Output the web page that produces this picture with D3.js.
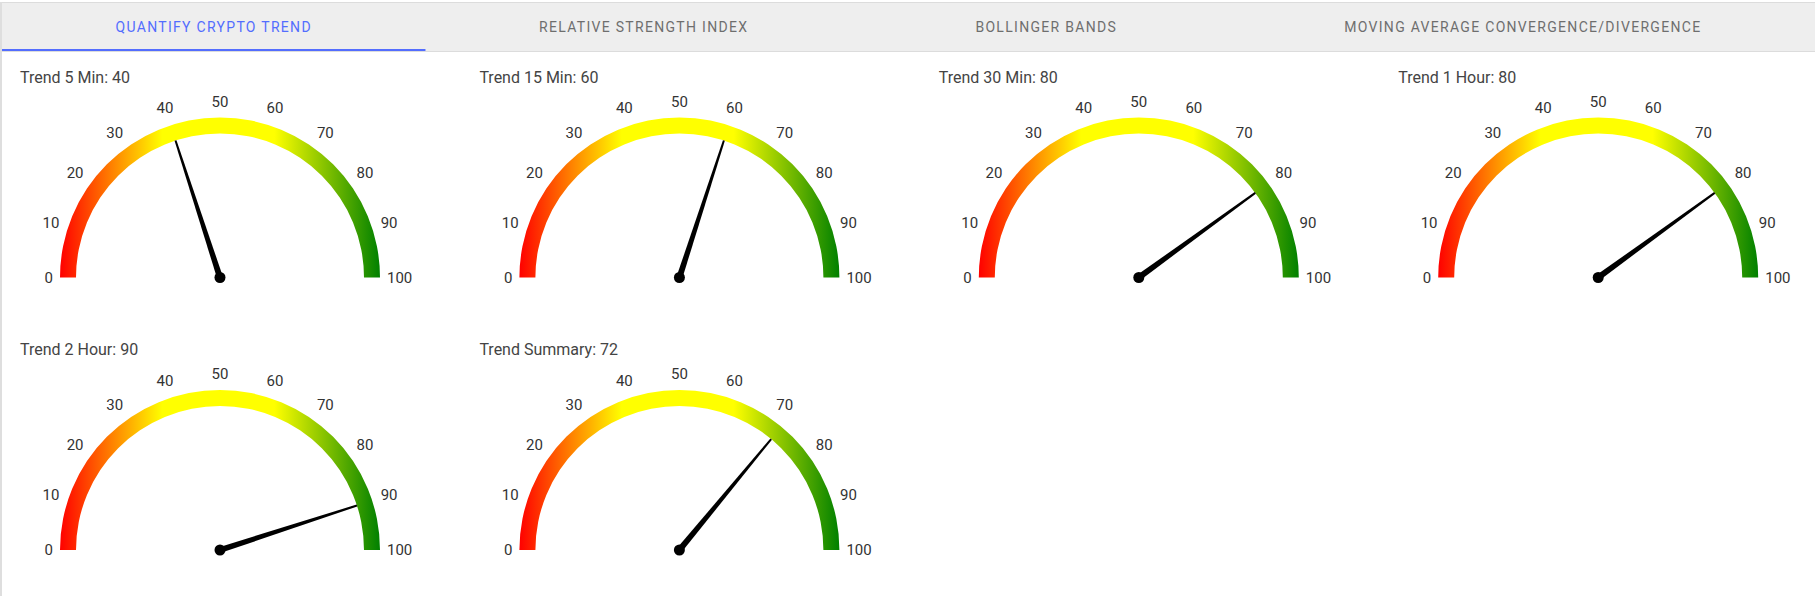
<!DOCTYPE html>
<html>
<head>
<meta charset="utf-8">
<script src="https://cdn.jsdelivr.net/npm/d3@7"></script>
<style>
  html, body { margin: 0; padding: 0; background: #fff; }
  svg { display: block; font-family: Roboto, "Noto Sans", sans-serif; }
</style>
</head>
<body>
<svg id="chart" width="1815" height="596"></svg>
<script>
// ---- data ----
const tabLabels = ["QUANTIFY CRYPTO TREND", "RELATIVE STRENGTH INDEX", "BOLLINGER BANDS", "MOVING AVERAGE CONVERGENCE/DIVERGENCE"];
const activeTab = 0;
const gaugeTitles = ["Trend 5 Min", "Trend 15 Min", "Trend 30 Min", "Trend 1 Hour", "Trend 2 Hour", "Trend Summary"];
const gaugeValues = [40, 60, 80, 80, 90, 72];
const tickValues = [0, 10, 20, 30, 40, 50, 60, 70, 80, 90, 100];

// ---- layout ----
const W = 1815, H = 596;
const svg = d3.select("#chart");
const cols = 4, colW = 459.4;
const rowCenterY = [277.5, 550];
const rowTitleY = [82.7, 355];
const firstCx = 220, titleX = 20;
const rOuter = 160, rInner = 144, rLabel = 167;

const angle = d3.scaleLinear().domain([0, 100]).range([-Math.PI / 2, Math.PI / 2]);

// defs: gradient
const defs = svg.append("defs");
const grad = defs.append("linearGradient").attr("id", "gaugeGrad")
  .attr("x1", 0).attr("x2", 1).attr("y1", 0).attr("y2", 0);
[[0, "#ff0000"], [0.32, "#ffff00"], [0.67, "#ffff00"], [1, "#008000"]].forEach(([o, c]) =>
  grad.append("stop").attr("offset", o).attr("stop-color", c));

// ---- tab bar ----
svg.append("rect").attr("x", 0).attr("y", 2).attr("width", W).attr("height", 49).attr("fill", "#eeeeee");
svg.append("line").attr("x1", 0).attr("x2", W).attr("y1", 2.5).attr("y2", 2.5).attr("stroke", "#dcdcdc").attr("stroke-width", 1);
svg.append("line").attr("x1", 0).attr("x2", W).attr("y1", 51.5).attr("y2", 51.5).attr("stroke", "#dcdcdc").attr("stroke-width", 1);
svg.append("line").attr("x1", 1).attr("x2", 1).attr("y1", 2).attr("y2", H).attr("stroke", "#dedede").attr("stroke-width", 2);

const tabG = svg.append("g");
const tabTexts = tabG.selectAll("text").data(tabLabels).join("text")
  .attr("y", 32.3)
  .attr("text-anchor", "middle")
  .attr("font-size", 14)
  .attr("font-weight", 400)
  .attr("letter-spacing", "1.3px")
  .attr("fill", (d, i) => i === activeTab ? "#536dfe" : "#6e6e6e")
  .text(d => d);
const widths = [];
tabTexts.each(function () { widths.push(this.getComputedTextLength()); });
const tabStart = 2, tabEnd = W;
const extra = (tabEnd - tabStart - d3.sum(widths)) / tabLabels.length;
let acc = tabStart;
const tabPos = widths.map(w => { const x0 = acc; acc += w + extra; return [x0, acc]; });
tabTexts.attr("x", (d, i) => (tabPos[i][0] + tabPos[i][1]) / 2);
tabG.append("rect")
  .attr("x", tabPos[activeTab][0]).attr("y", 49)
  .attr("width", tabPos[activeTab][1] - tabPos[activeTab][0]).attr("height", 2)
  .attr("fill", "#536dfe");

// ---- gauges ----
const arc = d3.arc().innerRadius(rInner).outerRadius(rOuter)
  .startAngle(-Math.PI / 2).endAngle(Math.PI / 2);

gaugeValues.forEach((v, i) => {
  const col = i % cols, row = Math.floor(i / cols);
  const cx = firstCx + col * colW, cy = rowCenterY[row];

  svg.append("text")
    .attr("x", titleX + col * colW).attr("y", rowTitleY[row])
    .attr("font-size", 16).attr("fill", "#444")
    .text(`${gaugeTitles[i]}: ${v}`);

  const g = svg.append("g").attr("transform", `translate(${cx},${cy})`);
  g.append("path").attr("d", arc()).attr("fill", "url(#gaugeGrad)");

  // tick labels
  g.selectAll("text.tick").data(tickValues).join("text")
    .attr("class", "tick")
    .attr("font-size", 15).attr("fill", "#333")
    .attr("text-anchor", "middle")
    .attr("dy", "0.355em")
    .text(d => d)
    .each(function (d) {
      const a = angle(d); // angle from vertical
      const w = this.getComputedTextLength();
      const hh = 9;
      const r = rLabel + (w / 2) * Math.abs(Math.sin(a)) + hh * Math.abs(Math.cos(a));
      d3.select(this).attr("x", r * Math.sin(a)).attr("y", -r * Math.cos(a));
    });

  // needle
  const a = angle(v);
  const len = rInner, bw = 3, tw = 1;
  const ux = Math.sin(a), uy = -Math.cos(a);
  const px = -uy, py = ux;
  const pts = [
    [px * bw, py * bw],
    [ux * len + px * tw, uy * len + py * tw],
    [ux * len - px * tw, uy * len - py * tw],
    [-px * bw, -py * bw]
  ];
  g.append("path").attr("d", d3.line()(pts) + "Z").attr("fill", "#000");
  g.append("circle").attr("r", 5.5).attr("fill", "#000");
});
</script>
</body>
</html>
